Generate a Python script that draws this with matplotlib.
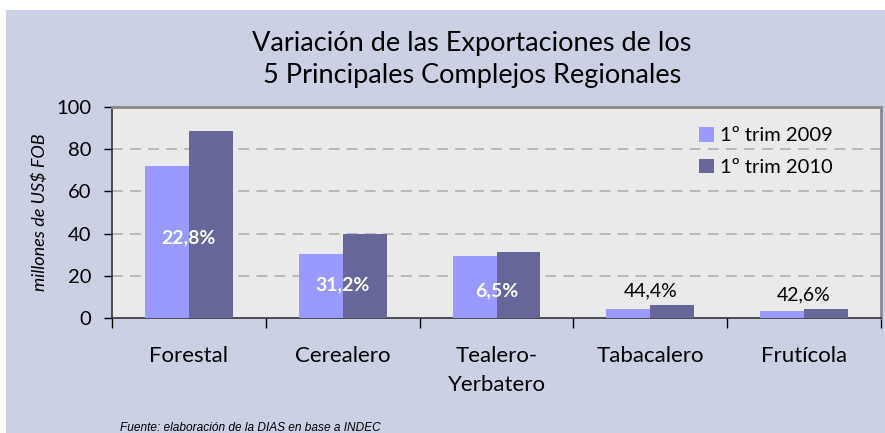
import matplotlib
matplotlib.use("Agg")
import matplotlib.pyplot as plt
from matplotlib.patches import Rectangle
import numpy as np

# Datos (millones de US$ FOB)
categorias = ["Forestal", "Cerealero", "Tealero-\nYerbatero", "Tabacalero", "Frutícola"]
trim_2009 = [72.0, 30.3, 29.4, 4.3, 3.1]
trim_2010 = [88.4, 39.8, 31.3, 6.2, 4.4]
variacion = ["22,8%", "31,2%", "6,5%", "44,4%", "42,6%"]
var_y = [38, 15.6, 12.8, 12.8, 11.0]
var_blanco = [True, True, True, False, False]
series = ["1º trim 2009", "1º trim 2010"]

plt.rcParams['font.family'] = ['Lato', 'DejaVu Sans']

c_fondo = "#CCD0E4"
c_plot = "#EAEAEA"
c_2009 = "#9999FF"
c_2010 = "#666699"

fig = plt.figure(figsize=(8.85, 4.33), dpi=100, facecolor="white")
fig.patches.append(Rectangle((6 / 885, 0), 1, 1 - 10 / 433, transform=fig.transFigure,
                             facecolor=c_fondo, edgecolor="none", zorder=-10))

ax = fig.add_axes([112 / 885, (433 - 318) / 433, (881 - 112) / 885, (318 - 107) / 433])
ax.set_facecolor(c_plot)

x = np.arange(len(categorias))
w = 0.286
ax.bar(x - w / 2, trim_2009, w, color=c_2009, label=series[0], zorder=3)
ax.bar(x + w / 2, trim_2010, w, color=c_2010, label=series[1], zorder=3)

for xi, txt, yy, blanco in zip(x, variacion, var_y, var_blanco):
    ax.text(xi, yy, txt, ha="center", va="center", fontsize=14,
            color="white" if blanco else "black",
            fontweight="bold" if blanco else "normal", zorder=4)

ax.set_xlim(-0.5, len(categorias) - 0.5)
ax.set_ylim(0, 100)
ax.set_yticks([0, 20, 40, 60, 80, 100])
ax.tick_params(axis="y", labelsize=14.5, length=6, width=1, direction="out", pad=9)
for y in [20, 40, 60, 80]:
    ax.axhline(y, color="#B4B4B4", lw=1.3, dashes=(6, 4), zorder=1)

ax.set_xticks(x)
ax.set_xticklabels(categorias, fontsize=16, linespacing=1.55)
ax.tick_params(axis="x", which="major", length=0, pad=20)
ax.set_xticks(np.arange(len(categorias) + 1) - 0.5, minor=True)
ax.tick_params(axis="x", which="minor", length=7, width=1, direction="out")

for s in ["left", "bottom"]:
    ax.spines[s].set_color("#333333")
    ax.spines[s].set_linewidth(1.2)
for s in ["top", "right"]:
    ax.spines[s].set_color("#8A8A8A")
    ax.spines[s].set_linewidth(2)

ax.set_ylabel("millones de US$ FOB", fontsize=13, style="italic", labelpad=6)

ax.legend(loc="upper left", bbox_to_anchor=(0.74, 0.99), frameon=False, fontsize=14.5,
          handlelength=0.72, handleheight=0.72, handletextpad=0.3, labelspacing=0.7)

fig.text(472 / 885, 1 - 43 / 433, "Variación de las Exportaciones de los", ha="center",
         va="center", fontsize=19.5)
fig.text(472 / 885, 1 - 76 / 433, "5 Principales Complejos Regionales", ha="center",
         va="center", fontsize=19.5)

fig.text(120 / 885, 1 - 428 / 433, "Fuente: elaboración de la DIAS en base a INDEC",
         ha="left", va="center", fontsize=8.6, style="italic",
         family=["Liberation Sans Narrow", "Liberation Sans", "DejaVu Sans"])

fig.savefig("out.png", dpi=100, facecolor=fig.get_facecolor())
